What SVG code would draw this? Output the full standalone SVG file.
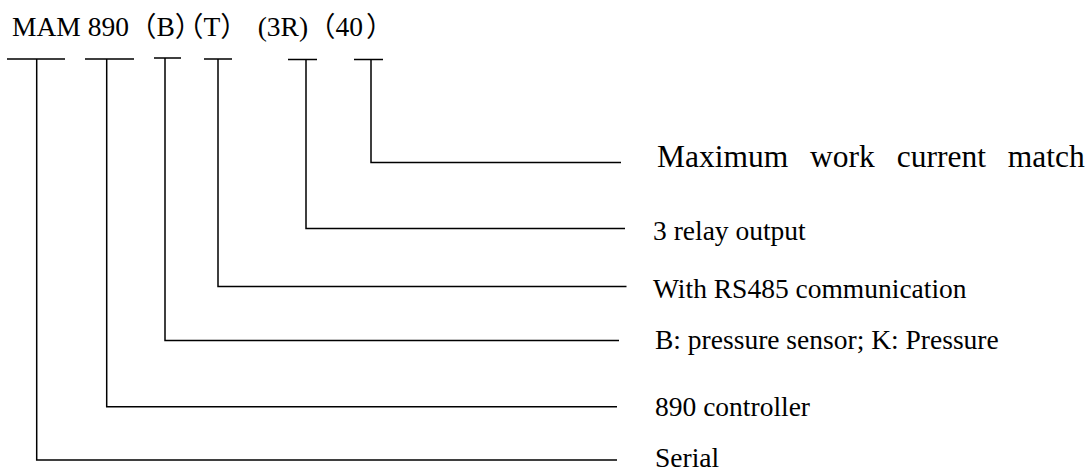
<svg xmlns="http://www.w3.org/2000/svg" width="1090" height="473" viewBox="0 0 1090 473">
<style>
.t{font-family:"Liberation Serif","Times New Roman",serif;font-size:27.5px;fill:#000}
.c{font-family:"Noto Sans CJK SC","Liberation Serif",serif}
.big{font-size:31.5px;word-spacing:14px}
.ln{stroke:#000;stroke-width:1.5;fill:none}
</style>
<rect width="1090" height="473" fill="#fff"/>
<g id="title">
<text class="t" x="12" y="36">MAM 890<tspan class="c">（</tspan>B<tspan class="c" letter-spacing="-12.5">）</tspan><tspan class="c">（</tspan>T<tspan class="c">）</tspan> <tspan dx="3">(3R)</tspan><tspan class="c">（</tspan>40<tspan class="c" dx="3">）</tspan></text>
</g>
<g id="connectors" class="ln">
<path d="M7 59H65M36.7 59V460H617"/>
<path d="M85 59H134M106.7 59V406.7H617"/>
<path d="M154 58H181M165 58V340.5H619"/>
<path d="M204 59H232M218 59V286.5H626.5"/>
<path d="M288 59.5H317M306 59.5V228.5H625"/>
<path d="M354 59.5H383M371 59.5V162.5H621"/>
</g>
<g id="n40"><text class="t big" x="657" y="167">Maximum work current match</text></g>
<g id="n3r"><text class="t" x="653" y="240">3 relay output</text></g>
<g id="nT"><text class="t" x="653" y="297.5">With RS485 communication</text></g>
<g id="nB"><text class="t" x="655" y="348.5">B: pressure sensor; K: Pressure</text></g>
<g id="n890"><text class="t" x="655" y="416">890 controller</text></g>
<g id="nSerial"><text class="t" x="655" y="467">Serial</text></g>
</svg>
